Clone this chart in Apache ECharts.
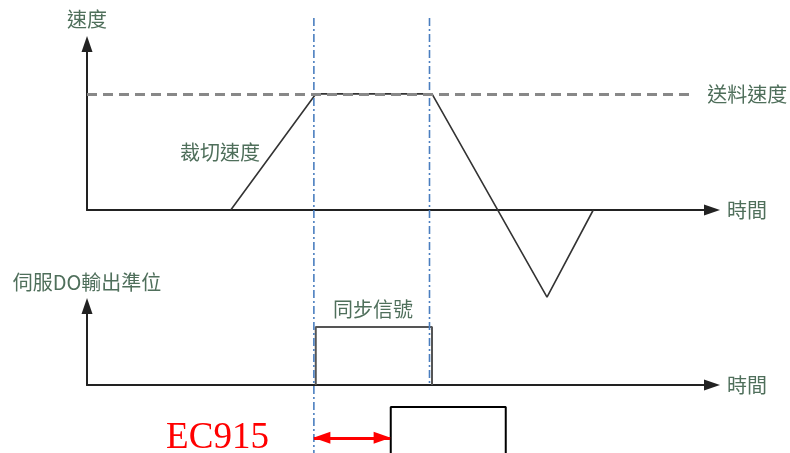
<!DOCTYPE html>
<html>
<head>
<meta charset="utf-8">
<script src="https://cdn.jsdelivr.net/npm/echarts@6/dist/echarts.min.js"></script>
<style>
  html, body { margin: 0; padding: 0; background: #fff; }
  #chart { width: 790px; height: 453px; }
</style>
</head>
<body>
<div id="chart"></div>
<script>
// 裁切速度曲線 (時間, 速度)
const cutTime = [23.0, 36.6, 55.2, 73.6, 81.0];
const cutSpeed = [0, 100, 100, -75, 0];
// 送料速度
const feedSpeed = 100;
const feedEnd = 97;
// 同步信號 (伺服DO輸出準位)
const syncTime = [36.6, 36.6, 55.2, 55.2];
const syncLevel = [0, 1, 1, 0];
// 藍色點劃線 (時間, 下端位置)
const guideTime = [36.3, 54.8];
const guideBottom = [0, 0.156];
// EC915 輸出
const ecTime = [48.6, 48.6, 67.0, 67.0];
const ecLevel = [0, 1, 1, 0];
const delayTime = [36.3, 48.5];
const delayLevel = 0.33;

const textColor = '#4f6f5b';
const cjk = '"Noto Sans CJK TC", "Noto Sans CJK SC", sans-serif';

const toPairs = (xs, ys) => xs.map((x, i) => [x, ys[i]]);

const chart = echarts.init(document.getElementById('chart'));

// 坐標軸樣式
const axisArrow = {
  show: true,
  symbol: ['none', 'triangle'],
  symbolSize: [11, 16],
  lineStyle: { color: '#222', width: 2 }
};
const nameStyle = { color: textColor, fontSize: 20, fontFamily: cjk };

const hiddenX = (idx) => ({ type: 'value', gridIndex: idx, min: 0, max: 100, show: false });

const option = {
  animation: false,
  backgroundColor: '#fff',
  grid: [
    { left: 87, right: 78, top: 44, bottom: 243 },  // 速度
    { left: 87, right: 78, top: 306, bottom: 68 },  // DO 準位
    { left: 87, right: 78, top: 18, bottom: 0 },    // 藍色參考線
    { left: 87, right: 78, top: 407, bottom: 0 }    // EC915
  ],
  xAxis: [
    {
      type: 'value', gridIndex: 0, min: 0, max: 100,
      name: '時間', nameLocation: 'end', nameGap: 15, nameTextStyle: nameStyle,
      axisLine: axisArrow, axisTick: { show: false }, axisLabel: { show: false }, splitLine: { show: false }
    },
    {
      type: 'value', gridIndex: 1, min: 0, max: 100,
      name: '時間', nameLocation: 'end', nameGap: 15, nameTextStyle: nameStyle,
      axisLine: axisArrow, axisTick: { show: false }, axisLabel: { show: false }, splitLine: { show: false }
    },
    hiddenX(2),
    hiddenX(3)
  ],
  yAxis: [
    {
      type: 'value', gridIndex: 0, min: 0, max: 143,
      name: '速度', nameLocation: 'end', nameGap: 15, nameTextStyle: nameStyle,
      axisLine: axisArrow, axisTick: { show: false }, axisLabel: { show: false }, splitLine: { show: false }
    },
    {
      type: 'value', gridIndex: 1, min: 0, max: 1.36,
      name: '伺服DO輸出準位', nameLocation: 'end', nameGap: 14, nameTextStyle: nameStyle,
      axisLine: axisArrow, axisTick: { show: false }, axisLabel: { show: false }, splitLine: { show: false }
    },
    { type: 'value', gridIndex: 2, min: 0, max: 1, show: false },
    { type: 'value', gridIndex: 3, min: 0, max: 1, show: false }
  ],
  graphic: [
    {
      type: 'text', x: 220, y: 152,
      style: { text: '裁切速度', fill: textColor, font: '20px ' + cjk, textAlign: 'center', textVerticalAlign: 'middle' }
    },
    {
      type: 'text', x: 373, y: 309,
      style: { text: '同步信號', fill: textColor, font: '20px ' + cjk, textAlign: 'center', textVerticalAlign: 'middle' }
    }
  ],
  series: [
    {
      // 送料速度虛線
      type: 'line', xAxisIndex: 0, yAxisIndex: 0, data: [], z: 1,
      markLine: {
        silent: true, symbol: 'none', animation: false,
        lineStyle: { color: '#888', width: 3, type: [10, 6] },
        label: { show: true, position: 'end', distance: 14, formatter: '送料速度', color: textColor, fontSize: 20, fontFamily: cjk },
        data: [[{ coord: [0, feedSpeed] }, { coord: [feedEnd, feedSpeed] }]]
      }
    },
    {
      // 裁切速度
      type: 'line', xAxisIndex: 0, yAxisIndex: 0, clip: false, z: 3,
      symbol: 'none', lineStyle: { color: '#333', width: 1.6 },
      data: toPairs(cutTime, cutSpeed)
    },
    {
      // 同步信號
      type: 'line', xAxisIndex: 1, yAxisIndex: 1, z: 3,
      symbol: 'none', lineStyle: { color: '#555', width: 2 },
      data: toPairs(syncTime, syncLevel)
    },
    ...guideTime.map((t, i) => ({
      type: 'line', xAxisIndex: 2, yAxisIndex: 2, z: 4,
      symbol: 'none', lineStyle: { color: '#4a7ebf', width: 1.6, type: [8, 3, 2, 3] },
      data: [[t, 1], [t, guideBottom[i]]]
    })),
    {
      // EC915
      type: 'line', xAxisIndex: 3, yAxisIndex: 3, clip: false, z: 3,
      symbol: 'none', lineStyle: { color: '#000', width: 2 },
      data: toPairs(ecTime, ecLevel),
      markLine: {
        silent: true, animation: false,
        symbol: ['triangle', 'triangle'], symbolSize: [12, 17],
        symbolOffset: [[0, 8], [0, 8]],
        lineStyle: { color: '#f00', width: 3, type: 'solid' },
        label: { show: true, position: 'start', distance: 45, formatter: 'EC915', color: '#f00', fontSize: 37, fontFamily: '"Liberation Serif", serif' },
        data: [[{ coord: [delayTime[0], delayLevel] }, { coord: [delayTime[1], delayLevel] }]]
      }
    }
  ]
};

chart.setOption(option);
</script>
</body>
</html>
